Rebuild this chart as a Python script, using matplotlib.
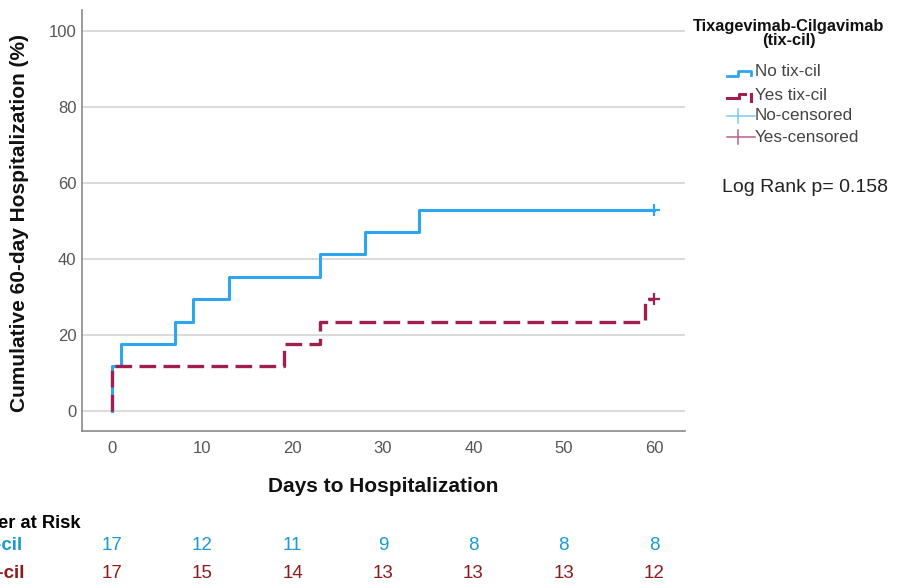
import matplotlib
matplotlib.use("Agg")
import matplotlib.pyplot as plt
from matplotlib.lines import Line2D
from matplotlib.transforms import blended_transform_factory

plt.rcParams["font.family"] = ["Liberation Sans", "DejaVu Sans"]

# Cumulative hospitalization (%) step curves
no_days = [0, 0, 1, 7, 9, 13, 23, 28, 34, 60]
no_pct = [0, 11.8, 17.6, 23.5, 29.4, 35.3, 41.2, 47.1, 52.9, 52.9]
yes_days = [0, 0, 19, 23, 59, 60]
yes_pct = [0, 11.8, 17.6, 23.5, 29.4, 29.4]

# Censoring at end of follow-up
no_cens_day, no_cens_pct = 60, 52.9
yes_cens_day, yes_cens_pct = 60, 29.4

# Number at risk table
risk_days = [0, 10, 20, 30, 40, 50, 60]
risk_no = [17, 12, 11, 9, 8, 8, 8]
risk_yes = [17, 15, 14, 13, 13, 13, 12]

x_ticks = [0, 10, 20, 30, 40, 50, 60]
y_ticks = [0, 20, 40, 60, 80, 100]

BLUE = "#2EA6EE"
RED = "#9E1F50"
BLUE_TXT = "#1B9AD6"
RED_TXT = "#8E1B1E"
BLUE_CENS = "#7CC7F0"
RED_CENS = "#B4628A"

W, H = 902, 588
fig = plt.figure(figsize=(W / 100, H / 100), dpi=100)


def fx(px):
    return px / W


def fy(py):
    return 1 - py / H


ax = fig.add_axes([fx(82), fy(431), fx(685) - fx(82), fy(10) - fy(431)])
ax.set_xlim(-3.3, 63.4)
ax.set_ylim(-5.3, 105.5)

for yv in y_ticks:
    ax.axhline(yv, color="#d4d4d4", lw=1.2, zorder=0)

ax.step(no_days, no_pct, where="post", color=BLUE, lw=2.2, zorder=3)
ax.step(yes_days, yes_pct, where="post", color=RED, lw=2.4,
        dashes=(5, 2.2), zorder=4)
ax.plot([no_cens_day], [no_cens_pct], marker="+", ms=9, mew=1.6,
        color=BLUE, zorder=5)
ax.plot([yes_cens_day], [yes_cens_pct], marker="+", ms=9, mew=1.6,
        color=RED, zorder=5)

for side in ["top", "right"]:
    ax.spines[side].set_visible(False)
for side in ["left", "bottom"]:
    ax.spines[side].set_color("#8a8a8a")
    ax.spines[side].set_linewidth(1.2)

ax.set_xticks(x_ticks)
ax.set_yticks(y_ticks)
ax.tick_params(length=0, labelsize=12, labelcolor="#555555")
ax.tick_params(axis="x", pad=7)
ax.tick_params(axis="y", pad=4)

fig.text(fx(383.5), fy(487), "Days to Hospitalization", ha="center",
         va="center", fontsize=15, fontweight="bold", color="#111111")
fig.text(fx(19.5), fy(223), "Cumulative 60-day Hospitalization (%)",
         ha="center", va="center", rotation=90, fontsize=15,
         fontweight="bold", color="#111111")

# Number at risk table
tr = blended_transform_factory(ax.transData, fig.transFigure)
fig.text(fx(80), fy(523), "Number at Risk", ha="right", va="center",
         fontsize=13.2, fontweight="bold", color="black")
fig.text(fx(22), fy(546), "No tix-cil", ha="right", va="center",
         fontsize=13.5, fontweight="bold", color=BLUE_TXT)
fig.text(fx(24), fy(574), "Yes tix-cil", ha="right", va="center",
         fontsize=13.5, fontweight="bold", color=RED_TXT)
for d, n1, n2 in zip(risk_days, risk_no, risk_yes):
    ax.text(d, fy(546), str(n1), transform=tr, ha="center", va="center",
            fontsize=13.5, color=BLUE_TXT)
    ax.text(d, fy(574), str(n2), transform=tr, ha="center", va="center",
            fontsize=13.5, color=RED_TXT)

# Legend drawn by hand
fig.text(fx(789), fy(26), "Tixagevimab-Cilgavimab", ha="center",
         va="center", fontsize=11.8, fontweight="bold", color="#111111")
fig.text(fx(789), fy(41), "(tix-cil)", ha="center", va="center",
         fontsize=11.8, fontweight="bold", color="#111111")


def fig_line(xs, ys, **kw):
    fig.add_artist(Line2D([fx(v) for v in xs], [fy(v) for v in ys],
                          transform=fig.transFigure, **kw))


rows = [72, 95, 116, 137]
labels = ["No tix-cil", "Yes tix-cil", "No-censored", "Yes-censored"]
yc = rows[0]
fig_line([727, 738, 738, 751, 751], [yc + 3.5, yc + 3.5, yc - 1.5, yc - 1.5,
                                     yc + 3], color=BLUE, lw=2.0)
yc = rows[1]
fig_line([727, 736], [yc + 3, yc + 3], color=RED, lw=2.2)
fig_line([739, 739, 745], [yc + 3, yc - 1, yc - 1], color=RED, lw=2.2)
fig_line([751, 751], [yc - 1, yc + 6], color=RED, lw=2.2)
for yc, c in [(rows[2], BLUE_CENS), (rows[3], RED_CENS)]:
    fig_line([727, 755], [yc, yc], color=c, lw=1.1)
    fig_line([738, 738], [yc - 7, yc + 7], color=c, lw=1.1)
for yc, lab in zip(rows, labels):
    fig.text(fx(755), fy(yc), lab, ha="left", va="center", fontsize=12.3,
             color="#444444")

fig.text(fx(722), fy(188), "Log Rank p= 0.158", ha="left", va="center",
         fontsize=14, color="#222222")

fig.savefig("out.png", dpi=100)
